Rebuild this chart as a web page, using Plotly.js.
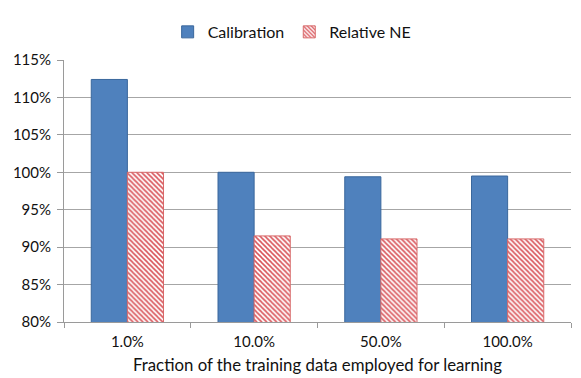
<!DOCTYPE html>
<html><head><meta charset="utf-8">
<script src="https://cdn.plot.ly/plotly-3.0.1.min.js"></script>
<style>html,body{margin:0;padding:0;background:#fff}#chart{width:581px;height:378px}</style>
</head><body><div id="chart"></div>
<script>
const categories = ["1.0%", "10.0%", "50.0%", "100.0%"];
const calibration = [1.124, 1.000, 0.994, 0.995];
const relativeNE = [1.000, 0.915, 0.911, 0.911];
const yTickVals = [0.80, 0.85, 0.90, 0.95, 1.00, 1.05, 1.10, 1.15];
const yTickText = ["80%", "85%", "90%", "95%", "100%", "105%", "110%", "115%"];

const fontFam = "Lato, 'Open Sans', sans-serif";
const traces = [
  {type: "bar", name: "Calibration", x: categories, y: calibration,
   marker: {color: "#4F81BD", line: {color: "#3A679C", width: 1}}},
  {type: "bar", name: "Relative NE", x: categories, y: relativeNE,
   marker: {color: "#ffffff", line: {color: "#D86A6A", width: 1},
     pattern: {shape: "\\", fgcolor: "#D9545A", bgcolor: "#ffffff", size: 3.5, solidity: 0.45}}}
];
const layout = {
  width: 581, height: 378,
  margin: {l: 64, r: 10, t: 60, b: 56},
  paper_bgcolor: "#fff", plot_bgcolor: "#fff",
  font: {family: fontFam, size: 15, color: "#111"},
  barmode: "group", bargap: 0.43, bargroupgap: 0,
  showlegend: true,
  legend: {orientation: "h", x: 0.45, xanchor: "center", y: 1.107, yanchor: "middle",
    font: {size: 16, family: fontFam}, itemwidth: 30, tracegroupgap: 0},
  xaxis: {type: "category", showgrid: false, showline: true, linecolor: "#9a9a9a",
    ticks: "outside", tickson: "boundaries", ticklen: 5, tickcolor: "#9a9a9a",
    ticklabelstandoff: 6, automargin: false,
    tickfont: {size: 15}, title: {text: "Fraction of the training data employed for learning", font: {size: 16.8}, standoff: 10}},
  yaxis: {range: [0.80, 1.15], tickvals: yTickVals, ticktext: yTickText,
    showgrid: true, gridcolor: "#a6a6a6", showline: true, linecolor: "#9a9a9a",
    ticks: "outside", ticklen: 6, tickcolor: "#9a9a9a", zeroline: false,
    ticklabelstandoff: 3, tickfont: {size: 15}, automargin: false}
};
Plotly.newPlot("chart", traces, layout, {displayModeBar: false, staticPlot: true});
</script></body></html>
